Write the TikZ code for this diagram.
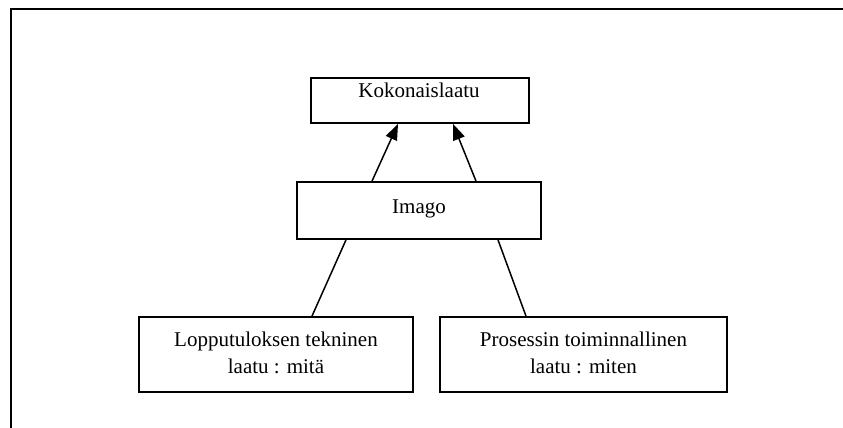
\documentclass[tikz,border=0pt]{standalone}
\usepackage{fontspec}
\setmainfont{Liberation Serif}
\usetikzlibrary{arrows.meta}
\begin{document}
\begin{tikzpicture}[x=1pt,y=-1pt,
  boxnode/.style={draw=black, line width=1.8pt, rectangle, inner sep=0pt},
  txt/.style={inner sep=0pt, font=\fontsize{21}{26.5}\selectfont, align=center, anchor=base},
  conn/.style={draw=black, line width=1.5pt},
  arr/.style={conn, -{Triangle[length=16pt,width=12pt]}},
  frameline/.style={draw=black, line width=2.2pt}]
\useasboundingbox[fill=white] (0,0) rectangle (843,428);
% outer frame (top and left only)
\coordinate (fl) at (11,428);
\coordinate (fc) at (11,9);
\coordinate (fr) at (843,9);
\draw[frameline] (fl) -- (fc) -- (fr);
% boxes
\node[boxnode, minimum width=218, minimum height=45] (k) at (420,100.5) {};
\node[boxnode, minimum width=244, minimum height=57] (im) at (419,210.5) {};
\node[boxnode, minimum width=274, minimum height=75] (l) at (276,354.5) {};
\node[boxnode, minimum width=287, minimum height=75] (r) at (583.5,354.5) {};
% texts
\node[txt] (kt) at (419,97) {Kokonaislaatu};
\node[txt] (imt) at (419,213) {Imago};
\node[txt] (lt) at (276,373) {Lopputuloksen tekninen\\laatu : mitä};
\node[txt] (rt) at (583.5,373) {Prosessin toiminnallinen\\laatu : miten};
% connectors
\draw[arr] ([xshift=-47pt]im.north) -- ([xshift=-22pt]k.south);
\draw[arr] ([xshift=57pt]im.north) -- ([xshift=33pt]k.south);
\draw[conn] ([xshift=-73pt]im.south) -- ([xshift=36pt]l.north);
\draw[conn] ([xshift=79pt]im.south) -- ([xshift=-57.5pt]r.north);
\end{tikzpicture}
\end{document}
